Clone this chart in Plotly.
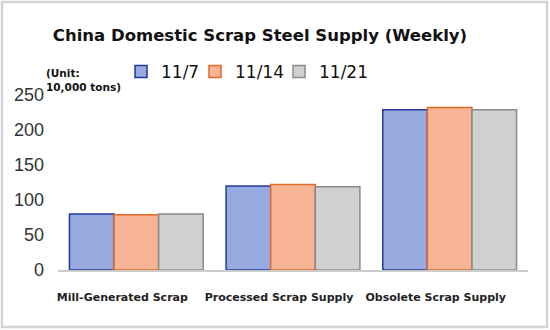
import plotly.graph_objects as go

categories = ["Mill-Generated Scrap", "Processed Scrap Supply", "Obsolete Scrap Supply"]
series_names = ["11/7", "11/14", "11/21"]
values_11_7 = [80, 120, 229]
values_11_14 = [79, 122, 232]
values_11_21 = [80, 119, 229]
y_ticks = [0, 50, 100, 150, 200, 250]

fills = ["#97abe0", "#f7b596", "#d0d0d0"]
lines = ["#23399a", "#e06a28", "#8a8a8a"]
legend_ids = ["legend", "legend2", "legend3"]
legend_x_px = [121, 195, 279]

W, H = 550, 330
L, R, T, B = 58, 22, 95, 60
pw, ph = W - L - R, H - T - B

font_main = "Liberation Sans, Arial, sans-serif"
font_wide = "DejaVu Sans, Verdana, sans-serif"

fig = go.Figure()
for name, vals, fc, lc, lg in zip(series_names, [values_11_7, values_11_14, values_11_21],
                                  fills, lines, legend_ids):
    fig.add_trace(go.Bar(x=categories, y=vals, name=name, legend=lg,
                         marker=dict(color=fc, line=dict(color=lc, width=1.5))))

legend_style = {}
for lg, xpx in zip(legend_ids, legend_x_px):
    legend_style[lg] = dict(orientation="h", xref="container", yref="container",
                            x=xpx / W, y=1 - 72 / H, xanchor="left", yanchor="middle",
                            font=dict(size=17, color="#111111", family=font_wide),
                            bgcolor="rgba(0,0,0,0)", itemclick=False)

fig.update_layout(
    width=W, height=H,
    margin=dict(l=L, r=R, t=T, b=B, autoexpand=False),
    paper_bgcolor="white", plot_bgcolor="white",
    barmode="group", bargap=0.146, bargroupgap=0,
    font=dict(family=font_main, color="#333333"),
    title=dict(text="China Domestic Scrap Steel Supply (Weekly)",
               xref="container", yref="container",
               x=260 / W, y=1 - 35 / H, xanchor="center", yanchor="middle",
               font=dict(size=16.5, weight="bold", color="#111111", family=font_wide)),
    showlegend=True,
    xaxis=dict(showline=True, linecolor="#cccccc", linewidth=2, ticks="",
               tickfont=dict(size=11, weight="bold", color="#222222", family=font_wide),
               ticklabelstandoff=16, ticklabelshift=-14),
    yaxis=dict(range=[0, 250], tickvals=y_ticks, showgrid=False, zeroline=False,
               showline=False, ticks="", tickfont=dict(size=18, color="#333333"),
               ticklabelstandoff=13),
    annotations=[dict(text="<b>(Unit:</b><br><b>10,000 tons)</b>", xref="paper", yref="paper",
                      x=(44 - L) / pw, y=(H - B - 80) / ph, xanchor="left", yanchor="middle",
                      align="left", showarrow=False,
                      font=dict(size=10.5, color="#111111", family=font_wide))],
    shapes=[dict(type="rect", xref="paper", yref="paper",
                 x0=(2 - L) / pw, x1=(547 - L) / pw,
                 y0=(H - B - 327) / ph, y1=(H - B - 2) / ph,
                 line=dict(color="#d4d4d4", width=2.5), fillcolor="rgba(0,0,0,0)", layer="below")],
    **legend_style,
)

fig.write_html("out.html")
